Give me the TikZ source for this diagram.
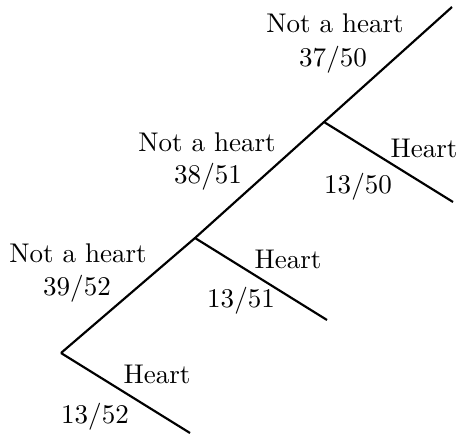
\documentclass[tikz,border=0pt]{standalone}
\usepackage{amsmath}
\usepackage{tikz}

\begin{document}
\begin{tikzpicture}[
  x=0.37pt, y=-0.37pt,
  branch/.style={line width=0.8pt},
  lbl/.style={anchor=base, inner sep=0pt}
]
\useasboundingbox (0,0) rectangle (458,438);

% tree points
\coordinate (root) at (61,353);
\coordinate (n1) at (195,238);
\coordinate (n2) at (324,122);
\coordinate (top) at (452,7);
\coordinate (h0) at (190,433);
\coordinate (h1) at (327,320);
\coordinate (h2) at (453,202);

\draw[branch] (root) -- (n1) -- (n2) -- (top);
\draw[branch] (root) -- (h0);
\draw[branch] (n1) -- (h1);
\draw[branch] (n2) -- (h2);

% labels
\node[lbl] (nh0) at (78,262) {Not a heart};
\node[lbl] (pn0) at (77,295) {$39/52$};
\node[lbl] (ht0) at (157,383) {Heart};
\node[lbl] (ph0) at (95,423) {$13/52$};

\node[lbl] (nh1) at (207,151) {Not a heart};
\node[lbl] (pn1) at (208,183) {$38/51$};
\node[lbl] (ht1) at (288,268) {Heart};
\node[lbl] (ph1) at (241,307) {$13/51$};

\node[lbl] (nh2) at (335,33) {Not a heart};
\node[lbl] (pn2) at (333,67) {$37/50$};
\node[lbl] (ht2) at (424,157) {Heart};
\node[lbl] (ph2) at (358,193) {$13/50$};
\end{tikzpicture}
\end{document}
